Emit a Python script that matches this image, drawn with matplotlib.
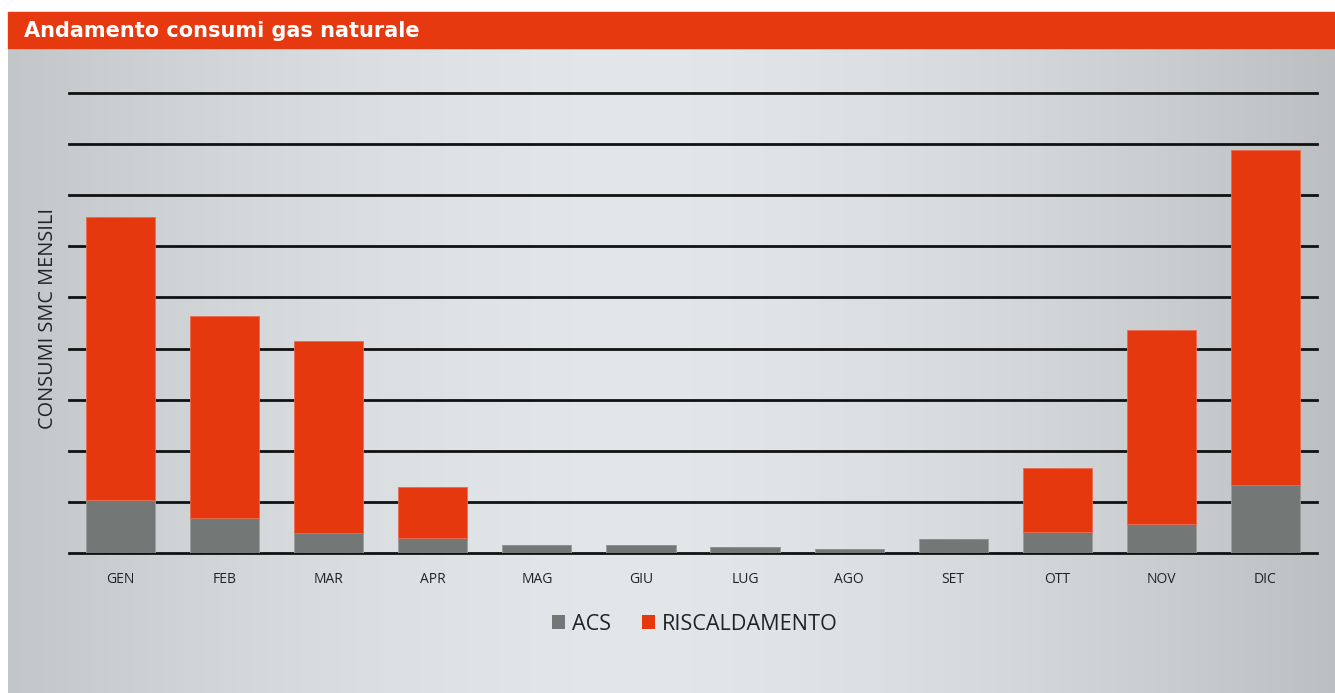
import numpy as np
import matplotlib
matplotlib.use("Agg")
import matplotlib.pyplot as plt
from matplotlib.patches import Rectangle, Patch

months = ["GEN", "FEB", "MAR", "APR", "MAG", "GIU", "LUG", "AGO", "SET", "OTT", "NOV", "DIC"]
acs = [1.04, 0.68, 0.39, 0.30, 0.15, 0.15, 0.12, 0.08, 0.27, 0.42, 0.57, 1.33]
riscaldamento = [5.54, 3.96, 3.76, 1.00, 0, 0, 0, 0, 0, 1.25, 3.79, 6.56]
series_names = ["ACS", "RISCALDAMENTO"]
title = "Andamento consumi gas naturale"
ylabel = "CONSUMI SMC MENSILI"

RED = "#e6380f"
GREY = "#737876"

W, H = 1335, 693
fig = plt.figure(figsize=(W / 100, H / 100), dpi=100)
fig.patch.set_facecolor("white")

def fx(px):
    return px / W

def fy(py):
    return 1 - py / H

# background gradient panel
bg = fig.add_axes([fx(8), 0, 1 - fx(8), fy(48)])
bg.set_axis_off()
xs = np.linspace(0, 1, 600)
d = np.abs(xs - 0.47) / 0.53
vals = 0.905 - 0.155 * d ** 1.6
r = vals * 0.985
g = vals * 1.0
b = vals * 1.01
img = np.clip(np.stack([r, g, b], axis=-1)[None, :, :], 0, 1)
bg.imshow(img, aspect="auto", extent=[0, 1, 0, 1])
bg.set_xlim(0, 1)
bg.set_ylim(0, 1)

# title bar
fig.patches.append(Rectangle((fx(8), fy(48)), 1 - fx(8), fy(12) - fy(48),
                             transform=fig.transFigure, color="#e6390f", zorder=1))
fig.text(fx(24), fy(31), title, color="white", fontsize=15, fontweight="bold",
         family="DejaVu Sans", va="center", ha="left")

# main axes
ax = fig.add_axes([fx(69), fy(553), fx(1317) - fx(69), fy(93) - fy(553)])
ax.patch.set_alpha(0)
x = np.arange(len(months))
ax.set_xlim(-0.495, len(months) - 0.505)
ax.set_ylim(0, 9)
for yv in range(0, 10):
    ax.axhline(yv, color="#111111", lw=2.0, zorder=1, clip_on=False)

ax.bar(x, acs, width=0.665, color=GREY, edgecolor="#9a9d9c", linewidth=0.6, zorder=3)
ax.bar(x, riscaldamento, bottom=acs, width=0.665, color=RED, edgecolor="#ea6a50",
       linewidth=0.6, zorder=3)

for s in ax.spines.values():
    s.set_visible(False)
ax.set_yticks([])
ax.set_xticks(x)
ax.set_xticklabels(months, fontsize=10, family="Open Sans", color="#222222")
ax.tick_params(axis="x", length=0, pad=14)

fig.text(fx(48), fy(319), ylabel, rotation=90, fontsize=14.3, family="Open Sans",
         color="#222222", va="center", ha="center")

handles = [Patch(facecolor=GREY, edgecolor="none"), Patch(facecolor=RED, edgecolor="none")]
leg = fig.legend(handles, series_names, loc="center", bbox_to_anchor=(fx(695), fy(624)),
                 ncol=2, frameon=False, prop={"family": "Open Sans", "size": 15.6},
                 handlelength=0.6, handleheight=0.6, handletextpad=0.35, columnspacing=1.4)
for t in leg.get_texts():
    t.set_color("#222222")

fig.savefig("out.png", dpi=100)
